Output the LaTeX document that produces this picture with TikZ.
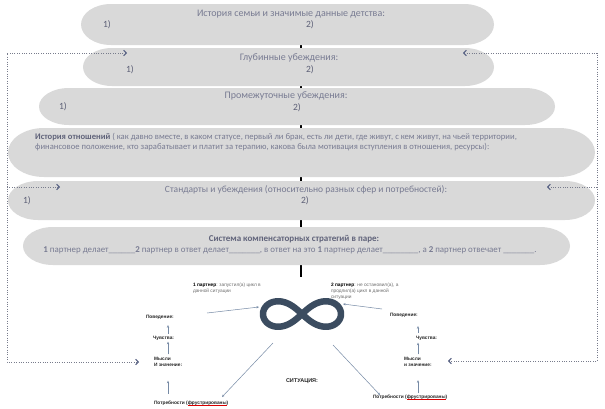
\documentclass[tikz,border=0pt]{standalone}
\usepackage{fontspec}
\setmainfont{Carlito}
\newfontfamily\arialf{Liberation Sans}
\usetikzlibrary{arrows.meta,calc}
\pgfdeclarelayer{background}
\pgfdeclarelayer{backdrop}
\pgfsetlayers{backdrop,background,main}
\definecolor{capfill}{RGB}{217,217,217}
\definecolor{captext}{RGB}{120,123,146}
\definecolor{capnum}{RGB}{92,95,118}
\definecolor{capbold}{RGB}{96,99,122}
\definecolor{infc}{RGB}{59,76,96}
\definecolor{dotc}{RGB}{120,124,140}
\definecolor{arrc}{RGB}{88,98,132}
\definecolor{thinc}{RGB}{118,138,165}
\definecolor{graytxt}{RGB}{110,110,110}
\newcommand\redul[1]{\leavevmode\setbox0\hbox{#1}\rlap{\color{red!85!black}\rule[-1pt]{\wd0}{0.35pt}}\box0}
\tikzset{
  pics/pill/.style args={#1/#2/#3}{code={
    \fill[capfill] ({-#1/2+#3},{#2/2}) -- ({#1/2-#3},{#2/2})
      arc[start angle=90,end angle=-90,x radius=#3,y radius=#2/2]
      -- ({-#1/2+#3},{-#2/2})
      arc[start angle=270,end angle=90,x radius=#3,y radius=#2/2] -- cycle;
    \node[minimum width=#1, minimum height=#2, inner sep=0pt] (-box) {};
  }},
  captitle/.style={text=captext, font=\fontsize{10}{12}\selectfont, inner sep=0pt},
  capnumst/.style={text=capnum, font=\fontsize{9.5}{11}\selectfont, inner sep=0pt},
  capbody/.style={text=captext, font=\fontsize{8.6}{10}\selectfont, inner sep=0pt, align=left},
  smalltxt/.style={font=\arialf\fontsize{4.8}{6}\selectfont, inner sep=0.8pt, align=left, text=black!85},
  boldtxt/.style={smalltxt, font=\arialf\bfseries\fontsize{4.8}{6}\selectfont},
  spine/.style={line width=1.3pt, black},
  dotline/.style={draw=dotc, line width=0.9pt, dash pattern=on 0.9pt off 1.5pt},
  chev/.tip={Straight Barb[length=2.6pt, width=5.5pt, line width=1.1pt, color=arrc]},
  thinarr/.style={draw=thinc, line width=0.5pt, -{Stealth[length=2.6pt,width=2.2pt]}},
}
\begin{document}
\begin{tikzpicture}[x=1pt,y=1pt]
\useasboundingbox (0,0) rectangle (605,-408);
\begin{pgfonlayer}{backdrop}
\fill[white] (0,0) rectangle (605,-408);
\end{pgfonlayer}

% capsules
\pic (c1) at (287.5,-24.5) {pill=413/41/30};
\pic (c2) at (288.5,-67) {pill=411/38/29};
\pic (c3) at (297,-106.5) {pill=516/37/30};
\pic (c4) at (301.5,-152.5) {pill=587/49/36};
\pic (c5) at (301.5,-200.5) {pill=587/39/30};
\pic (c6) at (296.5,-246) {pill=547/38/30};

% spine behind capsules
\coordinate (spinebot) at (301,-277);
\begin{pgfonlayer}{background}
\draw[spine] (c1-box.south -| spinebot) -- (spinebot);
\end{pgfonlayer}

% capsule texts
\node[captitle] (t1) at (291,-14) {История семьи и значимые данные детства:};
\node[capnumst] (n11) at (107,-25) {1)};
\node[capnumst] (n12) at (310,-25) {2)};

\node[captitle] (t2) at (289,-58) {Глубинные убеждения:};
\node[capnumst] (n21) at (130,-70) {1)};
\node[capnumst] (n22) at (310,-70) {2)};

\node[captitle] (t3) at (286,-95.5) {Промежуточные убеждения:};
\node[capnumst] (n31) at (63,-107) {1)};
\node[capnumst] (n32) at (297,-108) {2)};

\node[capbody, anchor=north west] (t4) at (35,-133) {{\color{capbold}\bfseries История отношений} ( как давно вместе, в каком статусе, первый ли брак, есть ли дети, где живут, с кем живут, на чьей территории,\\финансовое положение, кто зарабатывает и платит за терапию, какова была мотивация вступления в отношения, ресурсы):};

\node[captitle, font=\fontsize{9.5}{11}\selectfont] (t5) at (306,-190) {Стандарты и убеждения (относительно разных сфер и потребностей):};
\node[capnumst] (n51) at (27,-201) {1)};
\node[capnumst] (n52) at (305,-201) {2)};

\node[capbody, font=\bfseries\fontsize{9}{10}\selectfont, text=capbold] (t6) at (294,-239) {Система компенсаторных стратегий в паре:};
\node[capbody, font=\fontsize{8.9}{10}\selectfont] (t6b) at (290,-250) {{\bfseries 1} партнер делает\_\_\_\_\_\_{\bfseries 2} партнер в ответ делает\_\_\_\_\_\_\_, в ответ на это {\bfseries 1} партнер делает\_\_\_\_\_\_\_\_, а {\bfseries 2} партнер отвечает \_\_\_\_\_\_\_.};

% infinity
\node[minimum width=85, minimum height=32, inner sep=0pt] (inf) at (302,-314) {};
\draw[infc, line width=6.5pt, line join=round] plot[domain=0:360, samples=140, smooth cycle, shift={(302,-314)}] ({39*cos(\x)/(1+(sin(\x))^2)}, {36*sin(\x)*cos(\x)/(1+(sin(\x))^2)});

% bottom texts
\node[smalltxt, anchor=north west] (p1) at (192,-282.5) {{\bfseries\color{black}1 партнер}{\color{graytxt}: запустил(а) цикл в}\\{\color{graytxt}данной ситуации}};
\node[smalltxt, anchor=north west] (p2) at (330,-282.5) {{\bfseries\color{black}2 партнер}{\color{graytxt}: не остановил(а), а}\\{\color{graytxt}продлил(а) цикл в данной}\\{\color{graytxt}ситуации}};

\node[boldtxt, anchor=west] (beh1) at (145,-317) {Поведение:};
\node[boldtxt, anchor=west] (feel1) at (152,-338) {Чувства:};
\node[boldtxt, anchor=west] (th1) at (153,-362) {Мысли\\И значение:};
\node[boldtxt, anchor=west] (need1) at (153,-403) {Потребности (\redul{фрустрированы})};

\node[boldtxt, anchor=west] (beh2) at (389,-315) {Поведение:};
\node[boldtxt, anchor=west] (feel2) at (415,-338) {Чувства:};
\node[boldtxt, anchor=west] (th2) at (403,-361.5) {Мысли\\и значение:};
\node[boldtxt, anchor=west] (need2) at (372,-397) {Потребности (\redul{фрустрированы})};

\node[boldtxt, anchor=west, font=\arialf\bfseries\fontsize{5.5}{6.5}\selectfont] (sit) at (285,-381) {СИТУАЦИЯ:};

% column arrows
\coordinate (axL) at (168,0);
\coordinate (axR) at (418,0);
\draw[thinarr, shorten <=1pt, shorten >=5pt] (feel1.north -| axL) -- (beh1.south -| axL);
\draw[thinarr, shorten <=2pt, shorten >=0.5pt] (th1.north -| axL) -- (feel1.south -| axL);
\draw[thinarr, shorten <=6pt, shorten >=13pt] (need1.north -| axL) -- (th1.south -| axL);
\draw[thinarr, shorten <=2pt, shorten >=8pt] (feel2.north -| axR) -- (beh2.south -| axR);
\draw[thinarr, shorten <=1.5pt, shorten >=1.5pt] (th2.north -| axR) -- (feel2.south -| axR);
\draw[thinarr, shorten <=0.7pt, shorten >=13pt] (need2.north -| axR) -- (th2.south -| axR);

% diagonal connectors
\coordinate (l1a) at (207,-313);
\coordinate (l1b) at (259,-307);
\coordinate (r1a) at (382,-309);
\coordinate (r1b) at (343,-304);
\coordinate (l2a) at (273,-343);
\coordinate (l2b) at (222,-397);
\coordinate (r2a) at (333,-345);
\coordinate (r2b) at (380,-395);
\draw[thinarr] (l1a) -- (l1b);
\draw[thinarr] (r1a) -- (r1b);
\draw[thinarr] (l2a) -- (l2b);
\draw[thinarr] (r2a) -- (r2b);

% dotted feedback loops
\coordinate (xL) at (7,0);
\coordinate (xR) at (597,0);
\coordinate (dTL) at (127,-53);
\coordinate (dTR) at (463,-53);
\coordinate (sL) at (60,-187);
\coordinate (sR) at (547,-187);
\coordinate (mR) at (448,-361);
\draw[dotline, {chev}-{chev}, shorten >=14pt] (dTL) -- (dTL -| xL) |- (th1.west);
\draw[dotline, {chev}-{chev}] (dTR) -- (dTR -| xR) |- (mR);
\draw[dotline, -{chev}] (xL |- sL) -- (sL);
\draw[dotline, -{chev}] (xR |- sR) -- (sR);
\end{tikzpicture}
\end{document}
